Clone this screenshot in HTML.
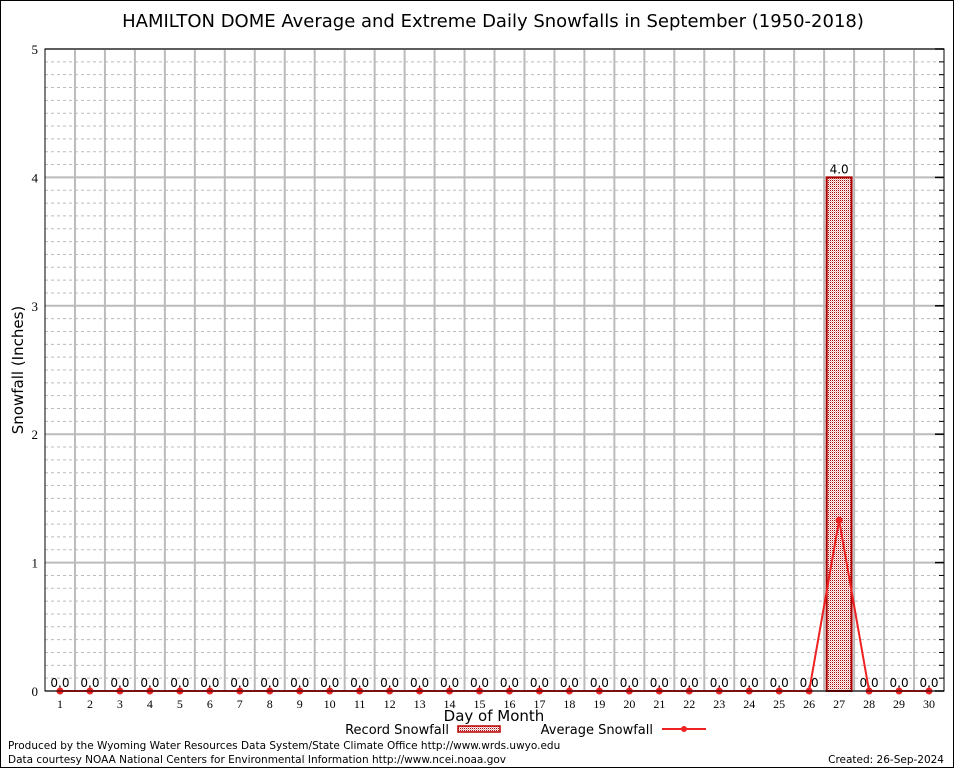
<!DOCTYPE html>
<html><head><meta charset="utf-8"><style>
body{margin:0;background:#fff;}
svg{display:block;font-family:"DejaVu Sans","Liberation Sans",sans-serif;}
</style></head><body>
<svg id="chart" width="954" height="768" viewBox="0 0 954 768">
<defs>
<pattern id="chk" width="2" height="2" patternUnits="userSpaceOnUse">
<rect width="2" height="2" fill="#fff"/><rect width="1" height="1" fill="#a00"/><rect x="1" y="1" width="1" height="1" fill="#e8b0b0"/>
</pattern>
</defs>
<rect x="0.5" y="0.5" width="953" height="767" fill="#fff" stroke="#000"/>
<text x="493" y="27" font-size="18" text-anchor="middle">HAMILTON DOME Average and Extreme Daily Snowfalls in September (1950-2018)</text>
<g id="grid"></g>
<g id="marks"></g>
<rect x="45" y="49" width="899" height="642" fill="none" stroke="#000"/>
<text transform="translate(23,370) rotate(-90)" font-size="15" text-anchor="middle">Snowfall (Inches)</text>
<text x="494" y="721" font-size="15" text-anchor="middle">Day of Month</text>
<g>
<text x="449" y="734" font-size="13" text-anchor="end">Record Snowfall</text>
<rect x="458" y="726" width="42" height="6" fill="url(#chk)" stroke="#b00" stroke-width="1.5"/>
</g>
<g>
<text x="653" y="734" font-size="13" text-anchor="end">Average Snowfall</text>
<line x1="662" y1="729" x2="706" y2="729" stroke="#e22" stroke-width="2"/>
<circle cx="684" cy="729" r="3" fill="#e22"/>
</g>
<text x="8" y="749" font-size="10.5">Produced by the Wyoming Water Resources Data System/State Climate Office http://www.wrds.uwyo.edu</text>
<text x="8" y="763" font-size="10.5">Data courtesy NOAA National Centers for Environmental Information http://www.ncei.noaa.gov</text>
<text x="944" y="763" font-size="10.5" text-anchor="end">Created: 26-Sep-2024</text>
</svg>
<script>
const days=[1,2,3,4,5,6,7,8,9,10,11,12,13,14,15,16,17,18,19,20,21,22,23,24,25,26,27,28,29,30];
const recordVals=[0,0,0,0,0,0,0,0,0,0,0,0,0,0,0,0,0,0,0,0,0,0,0,0,0,0,4.0,0,0,0];
const avgVals=[0,0,0,0,0,0,0,0,0,0,0,0,0,0,0,0,0,0,0,0,0,0,0,0,0,0,1.33,0,0,0];
const yTicks=[0,1,2,3,4,5];
const NS="http://www.w3.org/2000/svg";
const X0=45,X1=944,Y0=691,Y1=49;
function xs(d){return X0+(d-0.5)/30*(X1-X0);}
function ys(v){return Y0-v/5*(Y0-Y1);}
function mk(t,a,p){const e=document.createElementNS(NS,t);for(const k in a)e.setAttribute(k,a[k]);p.appendChild(e);return e;}
const grid=document.getElementById('grid'),marks=document.getElementById('marks');
for(let v=0.1;v<5;v+=0.1){const r=Math.round(v*10)/10;if(r%1===0)continue;
 const l=mk('line',{x1:X0,x2:X1,y1:ys(r),y2:ys(r),stroke:'#bbb','stroke-dasharray':'3,3'},grid);
 
 const t=mk('line',{x1:X1-5,x2:X1,y1:ys(r),y2:ys(r),stroke:'#000'},grid);
 }
for(let i=1;i<30;i++){const x=X0+i*(X1-X0)/30;
 const l=mk('line',{x1:x,x2:x,y1:Y1,y2:Y0,stroke:'#bbb','stroke-width':2},grid);
 }
yTicks.forEach(v=>{const y=ys(v);
 const l=mk('line',{x1:X0,x2:X1,y1:y,y2:y,stroke:'#bbb','stroke-width':2},grid);
 
 mk('line',{x1:X1-9,x2:X1,y1:y,y2:y,stroke:'#000','stroke-width':1.5},grid);
 const t=mk('text',{x:38,y:y+5,'font-size':13,'text-anchor':'end','font-family':'Liberation Serif,serif'},grid);t.textContent=v;
 });
days.forEach((d,i)=>{const x=xs(d);
 mk('line',{x1:x,x2:x,y1:Y0,y2:Y0-5,stroke:'#000'},grid);
 const t=mk('text',{x:x,y:Y0+17,'font-size':12,'text-anchor':'middle','font-family':'Liberation Serif,serif'},grid);t.textContent=d;
 
 const v=recordVals[i];const w=(X1-X0)/30*0.83;
 if(v>0){const b=mk('rect',{x:x-w/2,y:ys(v),width:w,height:Y0-ys(v),fill:'url(#chk)',stroke:'#a00','stroke-width':2},marks);
  }
 const lb=mk('text',{x:x,y:ys(v)-4,'font-size':12,'text-anchor':'middle'},marks);lb.textContent=v.toFixed(1);
 });
const pl=mk('polyline',{points:days.map((d,i)=>xs(d)+','+ys(avgVals[i])).join(' '),fill:'none',stroke:'#e22','stroke-width':2},marks);

days.forEach((d,i)=>{const c=mk('circle',{cx:xs(d),cy:ys(avgVals[i]),r:3.5,fill:'#e22'},marks);
 });
</script>
</body></html>
